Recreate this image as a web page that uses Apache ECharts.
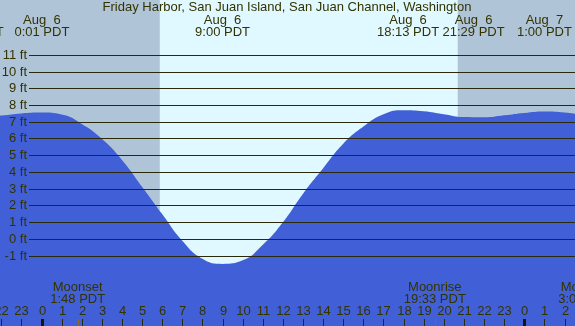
<!DOCTYPE html>
<html><head><meta charset="utf-8">
<script src="https://cdn.jsdelivr.net/npm/echarts@6/dist/echarts.min.js"></script>
<style>html,body{margin:0;padding:0;background:#e0f8ff}#c{width:575px;height:326px}</style>
</head><body><div id="c"></div>
<script>
const chartTitle = "Friday Harbor, San Juan Island, San Juan Channel, Washington";
// tide curve (hours from Aug 6 00:00 PDT, feet)
const tideHours = [-3, -2, -1, 0, 1, 2, 3, 4, 5, 6, 7, 8, 9, 10, 11, 12, 13, 14, 15, 16, 17, 18, 19, 20, 21, 22, 23, 24, 25, 26, 27];
const tideFeet  = [7.30, 7.37, 7.50, 7.55, 7.43, 6.87, 5.98, 4.72, 3.12, 1.48, -0.12, -1.20, -1.50, -1.29, -0.36, 0.99, 2.70, 4.22, 5.68, 6.71, 7.45, 7.69, 7.63, 7.45, 7.28, 7.27, 7.39, 7.53, 7.62, 7.55, 7.38];
const ftLevels = [-1, 0, 1, 2, 3, 4, 5, 6, 7, 8, 9, 10, 11];
const ftLabels = ["-1 ft", "0 ft", "1 ft", "2 ft", "3 ft", "4 ft", "5 ft", "6 ft", "7 ft", "8 ft", "9 ft", "10 ft", "11 ft"];
const hourTicks = [-2, -1, 0, 1, 2, 3, 4, 5, 6, 7, 8, 9, 10, 11, 12, 13, 14, 15, 16, 17, 18, 19, 20, 21, 22, 23, 24, 25, 26];
const hourLabels = ["22", "23", "0", "1", "2", "3", "4", "5", "6", "7", "8", "9", "10", "11", "12", "13", "14", "15", "16", "17", "18", "19", "20", "21", "22", "23", "0", "1", "2"];
const tideEventHours = [-3.42, 0.02, 9.0, 18.22, 21.48, 25.0];
const tideEventLabels = ["Aug  5\n20:35 PDT", "Aug  6\n0:01 PDT", "Aug  6\n9:00 PDT", "Aug  6\n18:13 PDT", "Aug  6\n21:29 PDT", "Aug  7\n1:00 PDT"];
const moonEventHours = [1.8, 19.55, 27.05];
const moonEventLabels = ["Moonset\n1:48 PDT", "Moonrise\n19:33 PDT", "Moonset\n3:03 PDT"];
const nightSpans = [[-6, 5.88], [20.69, 30]];
const xMin = -2.063, xMax = 26.52, yMin = -5.215, yMax = 14.282;

const FONT = '13px "Liberation Sans", Arial, sans-serif';
const TXT = '#333300';
const LINE = '#2a2a0a';
const BLUE = '#4160d8';
const NIGHT = '#b0c4d8';

const chart = echarts.init(document.getElementById('c'), null, {renderer: 'canvas'});
function clampX(cs, x) { return Math.max(cs.x, Math.min(cs.x + cs.width, x)); }

chart.setOption({
  animation: false,
  backgroundColor: '#e0f8ff',
  grid: {left: 0, right: 0, top: 0, bottom: 0},
  xAxis: {type: 'value', min: xMin, max: xMax, show: false},
  yAxis: {type: 'value', min: yMin, max: yMax, show: false},
  graphic: [{
    type: 'text', x: 287, y: 7.5, z: 10,
    style: {text: chartTitle, font: FONT, fill: TXT, align: 'center', verticalAlign: 'middle'}
  }],
  series: [
    {
      type: 'custom', z: 1, silent: true,
      data: nightSpans.map(s => [s[0], s[1]]),
      renderItem(params, api) {
        const cs = params.coordSys;
        const x1 = clampX(cs, api.coord([api.value(0), 0])[0]);
        const x2 = clampX(cs, api.coord([api.value(1), 0])[0]);
        return {type: 'rect', shape: {x: x1, y: cs.y, width: x2 - x1, height: cs.height}, style: {fill: NIGHT}};
      }
    },
    {
      type: 'line', z: 2, silent: true, smooth: 0.5, symbol: 'none', clip: true,
      data: tideHours.map((h, i) => [h, tideFeet[i]]),
      lineStyle: {width: 0},
      areaStyle: {color: BLUE, opacity: 1, origin: 'start'}
    },
    {
      type: 'custom', z: 3, silent: true,
      data: ftLevels.map((v, i) => [xMin, v, i]),
      renderItem(params, api) {
        const cs = params.coordSys;
        const y = Math.round(api.coord([xMin, api.value(1)])[1]) + 0.5;
        return {type: 'group', children: [
          {type: 'line', shape: {x1: cs.x + 29, y1: y, x2: cs.x + cs.width, y2: y}, style: {stroke: LINE, lineWidth: 1}},
          {type: 'text', style: {text: ftLabels[api.value(2)], x: cs.x + 27, y: y, align: 'right', verticalAlign: 'middle', font: FONT, fill: TXT}}
        ]};
      }
    },
    {
      type: 'custom', z: 4, silent: true,
      data: hourTicks.map((h, i) => [h, 0, i]),
      renderItem(params, api) {
        const cs = params.coordSys;
        const h = api.value(0);
        const x = Math.round(api.coord([h, 0])[0]);
        const bottom = cs.y + cs.height;
        const major = (h % 24 === 0);
        return {type: 'group', children: [
          {type: 'rect', shape: {x: major ? x - 1 : x, y: bottom - 7, width: major ? 3 : 1, height: 7}, style: {fill: major ? '#1a1400' : LINE}},
          {type: 'text', style: {text: hourLabels[api.value(2)], x: x + 0.5, y: bottom - 14.5, align: 'center', verticalAlign: 'middle', font: FONT, fill: TXT}}
        ]};
      }
    },
    {
      type: 'custom', z: 4, silent: true,
      data: tideEventHours.map((h, i) => [h, 0, i]),
      renderItem(params, api) {
        const cs = params.coordSys;
        const x = api.coord([api.value(0), 0])[0];
        return {type: 'text', style: {text: tideEventLabels[api.value(2)], x: x, y: cs.y + 26.3, align: 'center', verticalAlign: 'middle', lineHeight: 12, font: FONT, fill: TXT}};
      }
    },
    {
      type: 'custom', z: 4, silent: true,
      data: moonEventHours.map((h, i) => [h, 0, i]),
      renderItem(params, api) {
        const cs = params.coordSys;
        const x = api.coord([api.value(0), 0])[0];
        const bottom = cs.y + cs.height;
        return {type: 'group', children: [
          {type: 'rect', shape: {x: Math.round(x), y: bottom - 7, width: 1, height: 7}, style: {fill: '#8a6a20'}},
          {type: 'text', style: {text: moonEventLabels[api.value(2)], x: x, y: bottom - 32.7, align: 'center', verticalAlign: 'middle', lineHeight: 12, font: FONT, fill: TXT}}
        ]};
      }
    }
  ]
});
</script></body></html>
